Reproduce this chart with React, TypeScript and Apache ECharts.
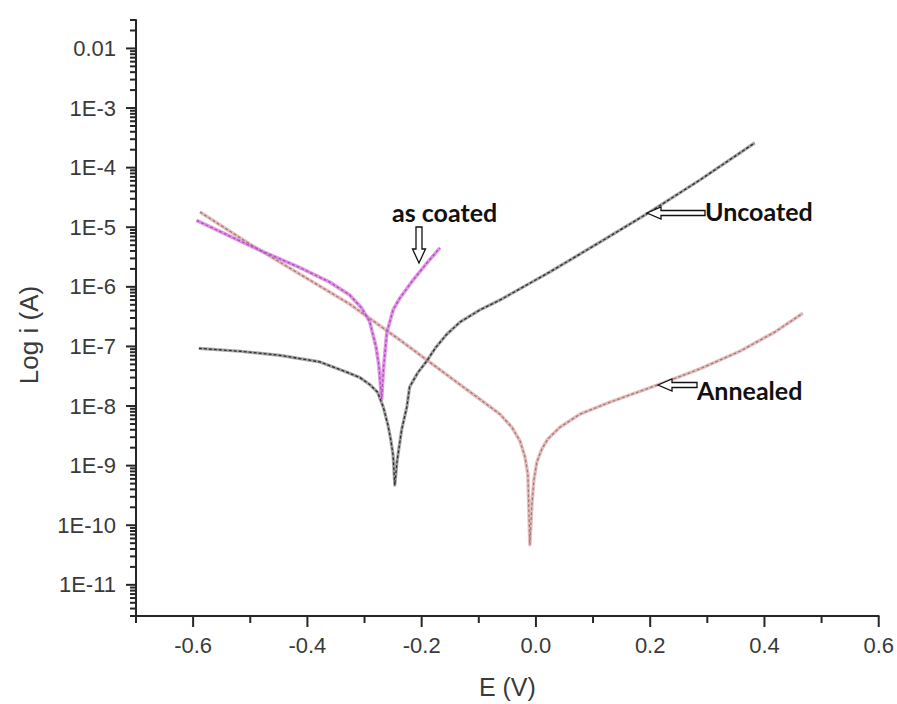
import React, { useEffect, useRef } from 'react';
import * as echarts from 'echarts';

// Potentiodynamic polarisation curves: potential E (V) vs current i (A), log scale.
const uncoatedE = [
  -0.59, -0.518, -0.448, -0.378, -0.331, -0.308, -0.291, -0.277, -0.267, -0.259, -0.254, -0.25, -0.247,
  -0.243, -0.235, -0.226, -0.221, -0.207, -0.191, -0.175, -0.156, -0.133, -0.098, -0.063, 0.024, 0.112, 0.199, 0.287, 0.383,
];
const uncoatedI = [
  9.3e-8, 8.3e-8, 7.1e-8, 5.5e-8, 3.7e-8, 3.0e-8, 2.3e-8, 1.7e-8, 9.5e-9, 4.8e-9, 2.7e-9, 1.5e-9, 4.7e-10,
  1.2e-9, 4.0e-9, 9.6e-9, 2.1e-8, 3.6e-8, 5.7e-8, 9.7e-8, 1.6e-7, 2.56e-7, 4.1e-7, 6.0e-7, 1.77e-6, 5.6e-6, 1.79e-5, 6.2e-5, 2.6e-4,
];

const annealedE = [
  -0.588, -0.5005, -0.413, -0.3255, -0.238, -0.1505, -0.098, -0.063, -0.042, -0.028, -0.0194, -0.0141, -0.0106,
  -0.0071, -0.0036, 0.0016, 0.0103, 0.0208, 0.0419, 0.0769, 0.1294, 0.2169, 0.2869, 0.3569, 0.4181, 0.4671,
];
const annealedI = [
  1.8e-5, 5.2e-6, 1.63e-6, 5.1e-7, 1.28e-7, 3.05e-8, 1.3e-8, 7.3e-9, 4.4e-9, 2.6e-9, 1.44e-9, 7.2e-10, 4.7e-11,
  2.2e-10, 5.7e-10, 1.14e-9, 1.89e-9, 2.8e-9, 4.4e-9, 7.3e-9, 1.16e-8, 2.33e-8, 4.2e-8, 8.3e-8, 1.74e-7, 3.6e-7,
];

const asCoatedE = [
  -0.594, -0.536, -0.483, -0.413, -0.361, -0.326, -0.305, -0.291, -0.28, -0.275, -0.27,
  -0.267, -0.261, -0.25, -0.238, -0.215, -0.191, -0.168,
];
const asCoatedI = [
  1.3e-5, 7.1e-6, 4.1e-6, 2.1e-6, 1.2e-6, 7.3e-7, 4.4e-7, 2.6e-7, 1.0e-7, 4.9e-8, 1.3e-8,
  4.0e-8, 1.7e-7, 4.1e-7, 6.5e-7, 1.3e-6, 2.5e-6, 4.5e-6,
];

// Axis ticks and tick labels
const xMajorTicks = [-0.6, -0.4, -0.2, 0.0, 0.2, 0.4, 0.6];
const xMinorTicks = [-0.7, -0.5, -0.3, -0.1, 0.1, 0.3, 0.5];
const yDecades = [1e-12, 1e-11, 1e-10, 1e-9, 1e-8, 1e-7, 1e-6, 1e-5, 1e-4, 1e-3, 1e-2];
const yTickLabels = ['', '1E-11', '1E-10', '1E-9', '1E-8', '1E-7', '1E-6', '1E-5', '1E-4', '1E-3', '0.01'];
const yMinorSteps = [2, 3, 4, 5, 6, 7, 8, 9];

const E_MIN = -0.7;
const E_MAX = 0.6;
const I_MIN = 3e-12;
const I_MAX = 0.03;

const AXIS_COLOR = '#262626';
const LABEL_COLOR = '#3a3a3a';
const TICK_FONT = 'Liberation Sans';
const TICK_SIZE = 22;

const pairs = (e: number[], i: number[]) => e.map((v, k) => [v, i[k]]);

function curve(name: string, data: number[][], base: string, grain: string, width: number) {
  return [
    {
      name,
      type: 'line',
      data,
      symbol: 'none',
      lineStyle: { color: base, width, opacity: 0.9, join: 'round' },
      z: 3,
    },
    {
      name: name + ' grain',
      type: 'line',
      data,
      symbol: 'none',
      lineStyle: { color: grain, width: 1.3, type: [3, 2] },
      z: 4,
    },
  ];
}

function tickSeries(data: number[][], dir: 'x' | 'y') {
  return {
    type: 'custom',
    silent: true,
    clip: false,
    z: 6,
    data,
    renderItem: (_params: any, api: any) => {
      const p = api.coord([api.value(0), api.value(1)]);
      const len = api.value(2);
      const shape =
        dir === 'x'
          ? { x1: p[0], y1: p[1], x2: p[0], y2: p[1] + len }
          : { x1: p[0], y1: p[1], x2: p[0] - len, y2: p[1] };
      return { type: 'line', shape, style: { stroke: AXIS_COLOR, lineWidth: 2 } };
    },
  };
}

// Decade labels on the log axis, placed through the axis scale
function yLabelSeries() {
  return {
    type: 'custom',
    silent: true,
    clip: false,
    z: 6,
    data: yDecades.map((d, k) => [E_MIN, d, k]),
    renderItem: (_params: any, api: any) => {
      const p = api.coord([api.value(0), api.value(1)]);
      const text = yTickLabels[api.value(2)];
      return {
        type: 'text',
        x: p[0] - 20,
        y: p[1],
        style: {
          text,
          fill: LABEL_COLOR,
          fontFamily: TICK_FONT,
          fontSize: TICK_SIZE,
          align: 'right',
          verticalAlign: 'middle',
        },
      };
    },
  };
}

function leftArrow(tipX: number, tipY: number, length: number) {
  const hl = 14;
  const hh = 6;
  const sh = 2.5;
  return {
    type: 'polygon',
    shape: {
      points: [
        [tipX, tipY],
        [tipX + hl, tipY - hh],
        [tipX + hl, tipY - sh],
        [tipX + length, tipY - sh],
        [tipX + length, tipY + sh],
        [tipX + hl, tipY + sh],
        [tipX + hl, tipY + hh],
      ],
    },
    style: { fill: '#fff', stroke: '#111', lineWidth: 1.3 },
    z: 10,
  };
}

function downArrow(tipX: number, tipY: number, length: number) {
  const hl = 14;
  const hw = 6.5;
  const sw = 3;
  return {
    type: 'polygon',
    shape: {
      points: [
        [tipX, tipY],
        [tipX - hw, tipY - hl],
        [tipX - sw, tipY - hl],
        [tipX - sw, tipY - length],
        [tipX + sw, tipY - length],
        [tipX + sw, tipY - hl],
        [tipX + hw, tipY - hl],
      ],
    },
    style: { fill: '#fff', stroke: '#111', lineWidth: 1.3 },
    z: 10,
  };
}

function note(text: string, x: number, y: number) {
  return {
    type: 'text',
    x,
    y,
    z: 10,
    style: {
      text,
      fill: '#111',
      fontFamily: 'Lato',
      fontWeight: 'bold',
      fontSize: 25,
      verticalAlign: 'middle',
      align: 'left',
    },
  };
}

export default function App() {
  const ref = useRef<HTMLDivElement>(null);

  useEffect(() => {
    document.body.style.margin = '0';
    if (!ref.current) return;
    const chart = echarts.init(ref.current, undefined, { renderer: 'svg' });

    const xTicks = [
      ...xMajorTicks.map((v) => [v, I_MIN, 11]),
      ...xMinorTicks.map((v) => [v, I_MIN, 7]),
    ];
    const yTicks: number[][] = [];
    yDecades.forEach((d) => {
      if (d >= I_MIN && d <= I_MAX) yTicks.push([E_MIN, d, 10]);
      yMinorSteps.forEach((m) => {
        const v = m * d;
        if (v >= I_MIN * 0.999 && v <= I_MAX * 1.001) yTicks.push([E_MIN, v, 6]);
      });
    });

    chart.setOption({
      animation: false,
      backgroundColor: '#ffffff',
      grid: { left: 136, right: 18, top: 20, bottom: 88 },
      xAxis: {
        type: 'value',
        min: E_MIN,
        max: E_MAX,
        interval: 0.1,
        name: 'E (V)',
        nameLocation: 'middle',
        nameGap: 58,
        nameTextStyle: { fontFamily: TICK_FONT, fontSize: 25, color: LABEL_COLOR },
        axisLine: { onZero: false, lineStyle: { color: AXIS_COLOR, width: 2 } },
        axisTick: { show: false },
        splitLine: { show: false },
        axisLabel: {
          margin: 18,
          fontFamily: TICK_FONT,
          fontSize: TICK_SIZE,
          color: LABEL_COLOR,
          formatter: (v: number) => {
            const k = Math.round(v * 10);
            return k % 2 === 0 ? (k / 10).toFixed(1) : '';
          },
        },
      },
      yAxis: {
        type: 'log',
        logBase: 10,
        min: I_MIN,
        max: I_MAX,
        name: 'Log i (A)',
        nameLocation: 'middle',
        nameGap: 94,
        nameTextStyle: { fontFamily: TICK_FONT, fontSize: 26, color: LABEL_COLOR, padding: [0, 34, 0, 0] },
        axisLine: { onZero: false, lineStyle: { color: AXIS_COLOR, width: 2 } },
        axisTick: { show: false },
        splitLine: { show: false },
        minorTick: { show: false },
        axisLabel: { show: false },
      },
      series: [
        ...curve('Annealed', pairs(annealedE, annealedI), '#e3b9b9', '#a87878', 3.5),
        ...curve('Uncoated', pairs(uncoatedE, uncoatedI), '#9a9a9a', '#2e2e2e', 3.2),
        ...curve('as coated', pairs(asCoatedE, asCoatedI), '#dc8ee0', '#b24cc0', 3.6),
        tickSeries(xTicks, 'x'),
        tickSeries(yTicks, 'y'),
        yLabelSeries(),
      ],
      graphic: [
        note('as coated', 392, 212),
        downArrow(419, 263, 36),
        leftArrow(647, 213, 58),
        note('Uncoated', 705, 211),
        leftArrow(658, 385, 39),
        note('Annealed', 697, 390),
      ],
    });

    return () => chart.dispose();
  }, []);

  return <div ref={ref} style={{ width: 897, height: 704 }} />;
}
